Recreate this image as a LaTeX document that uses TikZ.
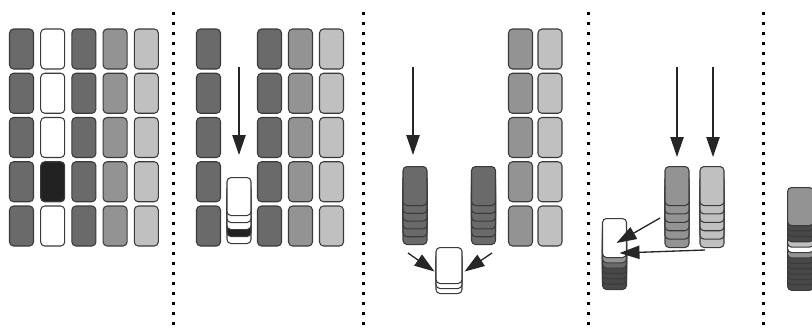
\documentclass[tikz,border=0pt]{standalone}
\usepackage{tikz}
\usetikzlibrary{arrows.meta,positioning,calc}
\definecolor{cdark}{HTML}{6A6A6A}
\definecolor{cmed}{HTML}{939393}
\definecolor{clight}{HTML}{C0C0C0}
\definecolor{cdeep}{HTML}{484848}
\definecolor{cblack}{HTML}{222222}
\definecolor{cedge}{HTML}{3A3A3A}
\tikzset{
card/.style = {draw=cedge, line width=0.9pt, rectangle, rounded corners=1.2mm, minimum width=7.2mm, minimum height=12mm, inner sep=0pt, fill=#1},
card/.default = white,
sep/.style = {line width=0.9mm, dash pattern=on 0.9mm off 2.1mm, black},
move/.style = {->, line width=0.4mm, black!85}
}

\begin{document}
\begin{tikzpicture}[x=0.3mm, y=-0.3mm, >={Triangle[length=6mm, width=4mm]}]
    \useasboundingbox (0,0) rectangle (812,331);
    \clip (0,0) rectangle (812,331);
    % separators
    \foreach \x [count=\n] in {173,363,588,763} {
        \coordinate (s\n-top) at (\x,12);
        \coordinate (s\n-bot) at (\x,331);
        \draw [sep] (s\n-top) -- (s\n-bot);
    }
    % panel 1: full grid
    \foreach \c/\col in {1/cdark,3/cdark,4/cmed,5/clight}
        \foreach \r in {1,...,5}
            \node [card=\col] (a\c\r) at ({21.5+31.2*(\c-1)}, {49+44.25*(\r-1)}) {};
    \foreach \r/\col in {1/white,2/white,3/white,4/cblack,5/white}
        \node [card=\col] (a2\r) at (52.7, {49+44.25*(\r-1)}) {};
    % panel 2: second column collected
    \foreach \x/\c/\col in {208.5/1/cdark,269.5/3/cdark,300.5/4/cmed,331.5/5/clight}
        \foreach \r in {1,...,5}
            \node [card=\col] (b\c\r) at (\x, {49+44.25*(\r-1)}) {};
    \foreach \i/\col in {4/white,3/cblack,2/white,1/white,0/white}
        \node [card=\col, minimum height=11.4mm, anchor=north] (bs\i) at (239, 177+7*\i) {};
    \coordinate (b-in) at (239,67);
    \draw [move, shorten >=6.6mm] (b-in) -- (bs0.north);
    % panel 3: two stacks merged
    \foreach \x/\c/\col in {520.5/4/cmed,550/5/clight}
        \foreach \r in {1,...,5}
            \node [card=\col] (c\c\r) at (\x, {49+44.25*(\r-1)}) {};
    \foreach \i in {5,4,...,0} {
        \node [card=cdark, minimum height=11.7mm, anchor=north] (cl\i) at (415, 166+7.8*\i) {};
        \node [card=cdark, minimum height=11.7mm, anchor=north] (cr\i) at (483.5, 166+7.8*\i) {};
    }
    \foreach \i in {2,1,0}
        \node [card, minimum height=10.8mm, minimum width=7.8mm, anchor=north] (m\i) at (449, 247+5*\i) {};
    \coordinate (c-in) at (413,67);
    \coordinate (cl-out) at (408,253);
    \coordinate (cr-out) at (492,253);
    \draw [move, shorten >=3.3mm] (c-in) -- (c-in |- cl0.north);
    \draw [move] (cl-out) -- ($(m0.west)+(-1,6)$);
    \draw [move] (cr-out) -- ($(m0.east)+(2,6)$);
    % panel 4: last two stacks
    \foreach \i in {5,4,...,0} {
        \node [card=cmed, minimum height=11.7mm, anchor=north] (dm\i) at (677, 166+8.4*\i) {};
        \node [card=clight, minimum height=11.7mm, anchor=north] (dl\i) at (712, 166+8.4*\i) {};
    }
    \foreach \i/\col in {6/cdeep,5/cdeep,4/cdeep,3/cdeep,2/cdark,1/cmed,0/white}
        \node [card=\col, minimum height=11.7mm, anchor=north] (ds\i) at (614.5, 218+5.33*\i) {};
    \coordinate (dm-in) at (677,67);
    \coordinate (dl-in) at (713,67);
    \coordinate (dm-out) at (660,218);
    \coordinate (dl-out) at (705,250);
    \draw [move, shorten >=2.7mm] (dm-in) -- (dm0.north);
    \draw [move, shorten >=2.7mm] (dl-in) -- (dl-in |- dl0.north);
    \draw [move] (dm-out) -- ($(ds0.center)+(2,5)$);
    \draw [move] (dl-out) -- ($(ds0.center)+(5,15)$);
    % panel 5: one pile
    \foreach \i/\col in {12/cdeep,11/cdeep,10/cdeep,9/cdeep,8/cdeep,7/cdeep,6/cmed,5/white,4/clight,3/cdeep,2/cdeep,1/cdeep,0/cmed}
        \node [card=\col, minimum height=11.4mm, minimum width=7.8mm, anchor=north west] (e\i) at (787, 187+5.4*\i) {};
\end{tikzpicture}
\end{document}
